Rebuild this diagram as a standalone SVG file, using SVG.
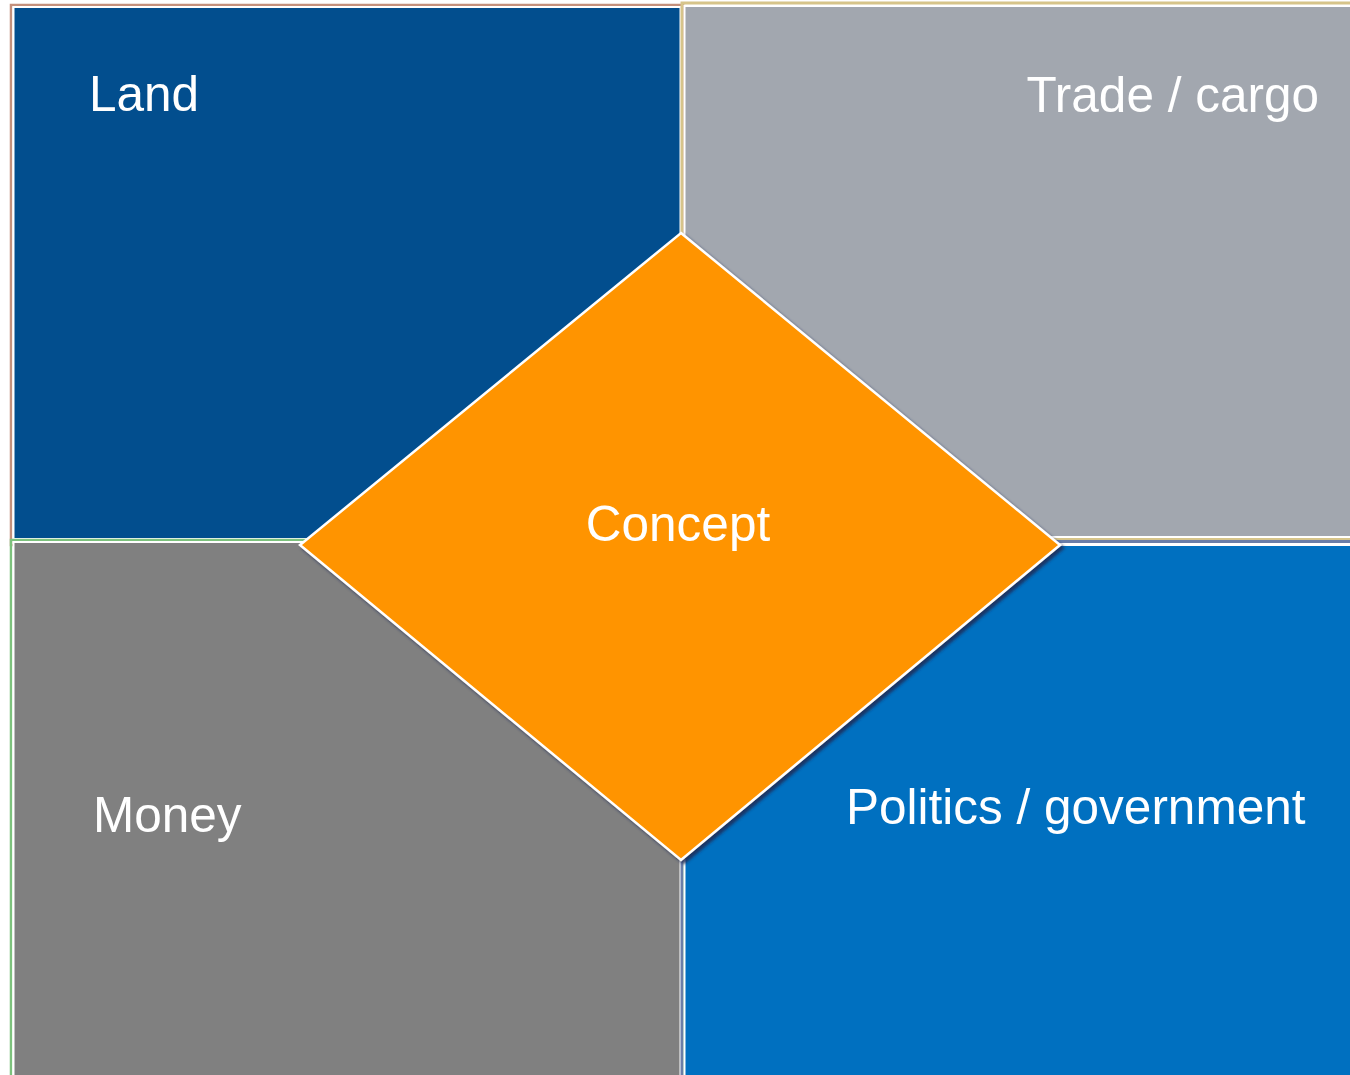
<svg xmlns="http://www.w3.org/2000/svg" width="1350" height="1075" viewBox="0 0 1350 1075">
<defs>
<style>
.lbl{font-family:"Liberation Sans",Arial,sans-serif;font-size:49.5px;fill:#FFFFFF;}
.inner{stroke:#FFFFFF;stroke-width:2;}
</style>
<filter id="sh" x="-10%" y="-10%" width="120%" height="120%">
<feGaussianBlur in="SourceAlpha" stdDeviation="1.5"/>
<feOffset dx="3" dy="3" result="b"/>
<feFlood flood-color="#1F2A55" flood-opacity="0.85"/>
<feComposite in2="b" operator="in"/>
<feMerge><feMergeNode/><feMergeNode in="SourceGraphic"/></feMerge>
</filter>
</defs>
<rect width="1350" height="1075" fill="#FFFFFF"/>
<g id="land">
<rect x="11" y="5" width="672" height="540" fill="none" stroke="#C4907C" stroke-width="2.5"/>
<rect x="13.5" y="7" width="667" height="532" fill="#024E8E" class="inner"/>
<text class="lbl" x="89" y="111">Land</text>
</g>
<g id="trade">
<rect x="682" y="3" width="680" height="536" fill="none" stroke="#D6C48A" stroke-width="3"/>
<rect x="684.5" y="6" width="670" height="531" fill="#A2A7AF" class="inner"/>
<text class="lbl" x="1319" y="112" text-anchor="end">Trade / cargo</text>
</g>
<g id="money">
<rect x="11" y="540" width="672" height="545" fill="none" stroke="#7DC27D" stroke-width="2.5"/>
<rect x="13.5" y="542" width="667" height="540" fill="#808080" class="inner"/>
<text class="lbl" x="93" y="832">Money</text>
</g>
<g id="politics">
<rect x="682" y="541.5" width="680" height="545" fill="none" stroke="#6A7DA8" stroke-width="3"/>
<rect x="684.5" y="545" width="670" height="540" fill="#0070C0" class="inner"/>
<text class="lbl" x="846" y="824">Politics / government</text>
</g>
<g id="connectors"></g>
<g id="concept">
<polygon points="681,233 1060,545 681,860 300,545" fill="#FF9400" stroke="#FFFFFF" stroke-width="2.5" filter="url(#sh)"/>
<text class="lbl" x="678" y="541" text-anchor="middle">Concept</text>
</g>
</svg>
